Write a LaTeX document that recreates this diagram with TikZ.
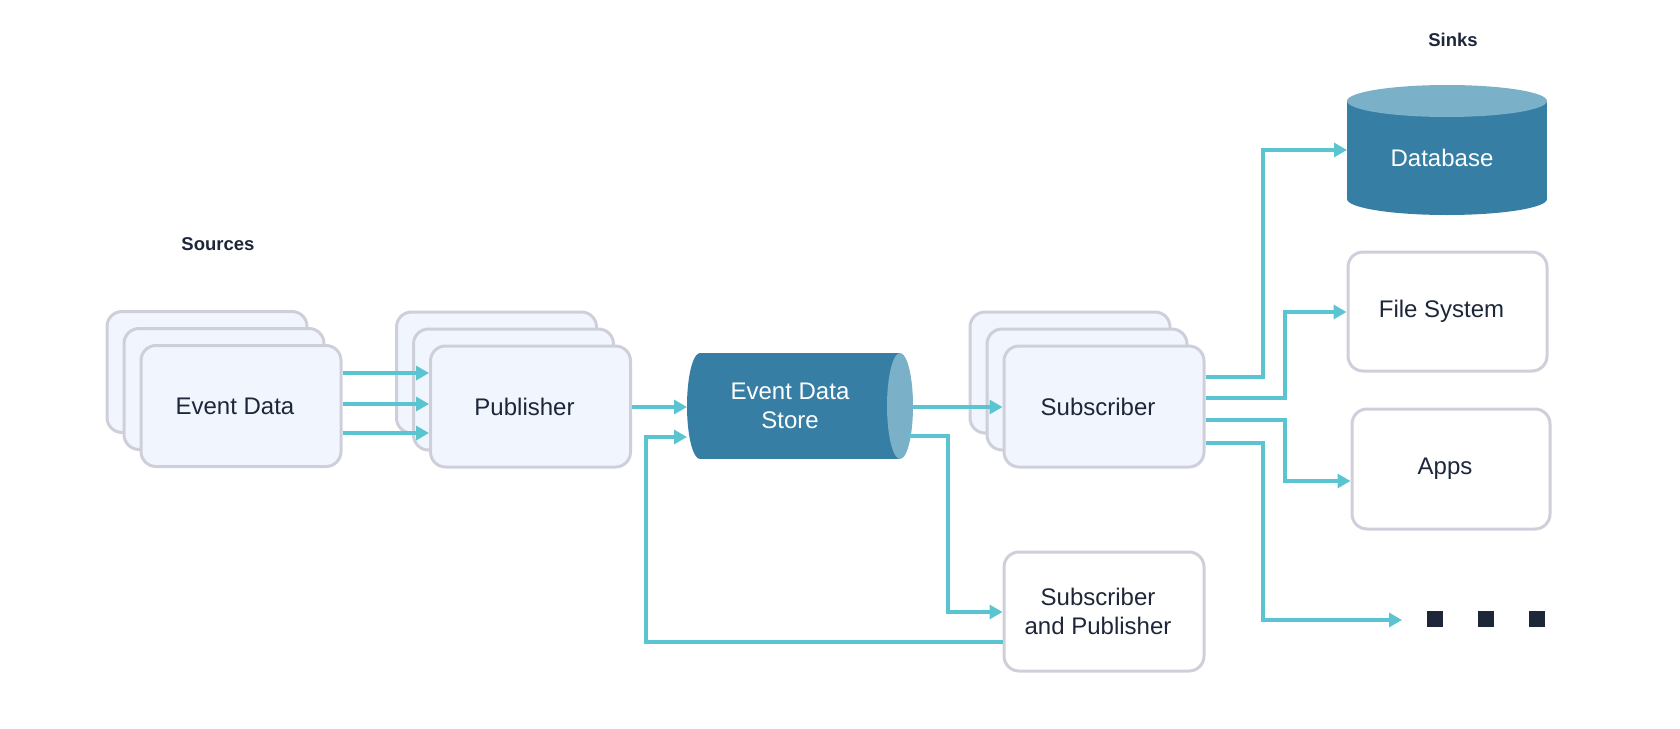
\documentclass[tikz,border=0pt]{standalone}
\usepackage{fontspec}
\setmainfont{Liberation Sans}
\usetikzlibrary{arrows.meta,calc}
\definecolor{boxfill}{HTML}{F0F5FE}
\definecolor{boxline}{HTML}{CFCFDC}
\definecolor{txt}{HTML}{1D2739}
\definecolor{cylbody}{HTML}{377EA4}
\definecolor{cylend}{HTML}{7AB0C8}
\definecolor{flow}{HTML}{5BC4D1}
\begin{document}
\begin{tikzpicture}[x=1pt,y=-1pt,
  card/.style={draw=boxline, line width=3pt, fill=boxfill, rounded corners=15pt,
    minimum width=200pt, minimum height=121pt, inner sep=0pt},
  whitecard/.style={card, fill=white},
  cardtext/.style={font=\fontsize{24}{29}\selectfont, text=txt, align=center, inner sep=0pt},
  txtlbl/.style={label={[cardtext, xshift=-6pt]center:{#1}}},
  flowline/.style={draw=flow, line width=4pt, -{Triangle[length=13pt,width=14pt]}},
  heading/.style={font=\bfseries\fontsize{18.5}{22}\selectfont, text=txt},
  cyltext/.style={text=white, font=\fontsize{24}{29}\selectfont, align=center, inner sep=0pt},
  dot/.style={fill=txt, minimum size=16pt, inner sep=0pt}]
\useasboundingbox (0,0) rectangle (1680,728);

% headings
\node[heading] (sources) at (218,244) {Sources};
\node[heading] (sinks) at (1453,40) {Sinks};

% Event Data stack
\node[card] (ev3) at (207,372) {};
\node[card] (ev2) at (224,389) {};
\node[card, txtlbl={Event Data}] (ev) at (241,406) {};

% Publisher stack
\node[card] (pub3) at (496.5,372.5) {};
\node[card] (pub2) at (513.5,389.5) {};
\node[card, txtlbl={Publisher}] (pub) at (530.5,406.5) {};

% Subscriber stack
\node[card] (sub3) at (1070,372.5) {};
\node[card] (sub2) at (1087,389.5) {};
\node[card, txtlbl={Subscriber}] (sub) at (1104,406.5) {};

% Subscriber and Publisher
\node[whitecard, minimum height=119pt, txtlbl={Subscriber\\and Publisher}] (sp) at (1104,611.5) {};

% sinks
\node[whitecard, minimum width=199pt, minimum height=119pt, txtlbl={File System}] (fs) at (1447.5,311.5) {};
\node[whitecard, minimum width=198pt, minimum height=120pt, txtlbl={Apps}] (apps) at (1451,469) {};

% Database cylinder
\fill[cylbody] (1347,101) rectangle (1547,199);
\fill[cylbody] (1447,199) ellipse [x radius=100pt, y radius=16pt];
\fill[cylend] (1447,101) ellipse [x radius=100pt, y radius=16pt];
\node[cyltext] (db) at (1442,158) {Database};
\coordinate (dbW) at (1347,150);

% Event Data Store cylinder
\coordinate (edsW) at (687,406);
\coordinate (edsE) at (913,406);
\fill[cylbody] (700,353) rectangle (900,459);
\fill[cylbody] (700,406) ellipse [x radius=13pt, y radius=53pt];
\fill[cylend] (900,406) ellipse [x radius=13pt, y radius=53pt];
\node[cyltext] (eds) at (790,406) {Event Data\\Store};

% dots
\node[dot] (d1) at (1435,619) {};
\node[dot] (d2) at (1485.5,619) {};
\node[dot] (d3) at (1537,619) {};
\coordinate (dotsin) at (1402,620);

% levels
\coordinate (l1) at (0,373);
\coordinate (l2) at (0,404);
\coordinate (l3) at (0,433);
\coordinate (lp) at (0,407);

% Event Data -> Publisher
\draw[flowline] (ev.east |- l1) -- (pub.west |- l1);
\draw[flowline] (ev.east |- l2) -- (pub.west |- l2);
\draw[flowline] (ev.east |- l3) -- (pub.west |- l3);

% Publisher -> Store
\draw[flowline] (pub.east |- lp) -- (edsW |- lp);

% Store -> Subscriber
\draw[flowline] (edsE |- lp) -- (sub.west |- lp);

% Store -> Subscriber and Publisher
\coordinate (e2) at (908,436);
\coordinate (b1) at (948,436);
\coordinate (b2) at (948,612);
\draw[flowline] (e2) -- (b1) -- (b2) -- (sp.west |- b2);

% feedback Subscriber and Publisher -> Store
\coordinate (fb1) at (646,642);
\coordinate (fb2) at (646,437);
\draw[flowline] (sp.west |- fb1) -- (fb1) -- (fb2) -- (edsW |- fb2);

% Subscriber -> sinks
\coordinate (s1a) at (1263,377);
\coordinate (s1b) at (1263,150);
\draw[flowline] (sub.east |- s1a) -- (s1a) -- (s1b) -- (dbW);

\coordinate (s2a) at (1285,398);
\coordinate (s2b) at (1285,312);
\draw[flowline] (sub.east |- s2a) -- (s2a) -- (s2b) -- (fs.west |- s2b);

\coordinate (s3a) at (1285,420);
\coordinate (s3b) at (1285,481);
\draw[flowline] (sub.east |- s3a) -- (s3a) -- (s3b) -- (apps.west |- s3b);

\coordinate (s4a) at (1263,443);
\coordinate (s4b) at (1263,620);
\draw[flowline] (sub.east |- s4a) -- (s4a) -- (s4b) -- (dotsin);
\end{tikzpicture}
\end{document}
